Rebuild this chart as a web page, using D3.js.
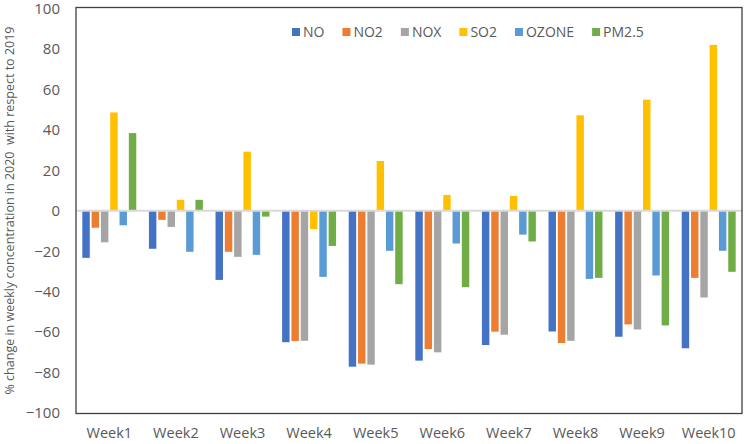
<!DOCTYPE html>
<html lang="en">
<head>
	<meta charset="utf-8">
	<title>Weekly concentration change 2020 vs 2019</title>
	<script src="https://d3js.org/d3.v7.min.js"></script>
	<style>
		body { margin: 0; background: #fff; }
		text { font-family: "Open Sans", sans-serif; fill: #595959; }
	</style>
</head>
<body>
<script>
	// Data
	var weeks = ["Week1", "Week2", "Week3", "Week4", "Week5", "Week6", "Week7", "Week8", "Week9", "Week10"];
	var pollutants = ["NO", "NO2", "NOX", "SO2", "OZONE", "PM2.5"];
	var colors = ["#4472C4", "#ED7D31", "#A5A5A5", "#FFC000", "#5B9BD5", "#70AD47"];

	var NO    = [-23.3, -18.8, -34.2, -65.0, -77.1, -74.1, -66.4, -59.7, -62.3, -68.0];
	var NO2   = [-8.4, -4.5, -20.3, -64.4, -75.6, -68.4, -59.8, -65.4, -56.2, -33.2];
	var NOX   = [-15.6, -8.0, -22.8, -64.3, -76.1, -70.0, -61.3, -64.3, -58.7, -42.9];
	var SO2   = [48.6, 5.4, 29.2, -9.1, 24.6, 7.8, 7.3, 47.2, 54.9, 82.0];
	var OZONE = [-7.2, -20.3, -21.8, -32.7, -19.8, -16.2, -11.8, -33.7, -32.0, -19.8];
	var PM25  = [38.4, 5.4, -2.9, -17.4, -36.3, -37.8, -15.2, -33.2, -56.7, -30.2];

	var yTicks = [-100, -80, -60, -40, -20, 0, 20, 40, 60, 80, 100];

	var seriesValues = [NO, NO2, NOX, SO2, OZONE, PM25];

	var w = 745;
	var h = 444;
	var plot = { left: 76, right: 742, top: 7.5, bottom: 413.5 };

	var svg = d3.select("body")
		.append("svg")
		.attr("width", w)
		.attr("height", h);

	// Scales
	var x0 = d3.scaleBand()
		.domain(weeks)
		.range([plot.left, plot.right])
		.paddingInner(0.19)
		.paddingOuter(0.095);

	var x1 = d3.scaleBand()
		.domain(pollutants)
		.range([0, x0.bandwidth()])
		.paddingInner(0.2);

	var y = d3.scaleLinear()
		.domain([-100, 100])
		.range([plot.bottom - 0.5, plot.top + 1]);

	var color = d3.scaleOrdinal().domain(pollutants).range(colors);

	// Bars, one group per week
	var rows = weeks.map(function(wk, i) {
		return {
			week: wk,
			values: pollutants.map(function(p, j) { return { key: p, value: seriesValues[j][i] }; })
		};
	});

	var groups = svg.selectAll("g.week")
		.data(rows)
		.enter()
		.append("g")
		.attr("class", "week")
		.attr("transform", function(d) { return "translate(" + x0(d.week) + ",0)"; });

	groups.selectAll("rect")
		.data(function(d) { return d.values; })
		.enter()
		.append("rect")
		.attr("x", function(d) { return x1(d.key); })
		.attr("y", function(d) { return y(Math.max(0, d.value)); })
		.attr("width", x1.bandwidth())
		.attr("height", function(d) { return Math.abs(y(d.value) - y(0)); })
		.attr("fill", function(d) { return color(d.key); });

	// Zero line
	svg.append("line")
		.attr("x1", plot.left)
		.attr("x2", plot.right)
		.attr("y1", y(0))
		.attr("y2", y(0))
		.attr("stroke", "#d9d9d9")
		.attr("stroke-width", 2);

	// Plot frame
	svg.append("rect")
		.attr("x", plot.left)
		.attr("y", plot.top)
		.attr("width", plot.right - plot.left)
		.attr("height", plot.bottom - plot.top)
		.attr("fill", "none")
		.attr("stroke", "#404040")
		.attr("stroke-width", 1.3);

	// Y axis labels
	var yAxis = d3.axisLeft(y)
		.tickValues(yTicks)
		.tickSize(0)
		.tickPadding(16);

	svg.append("g")
		.attr("transform", "translate(" + plot.left + ",0)")
		.call(yAxis)
		.call(function(g) { g.select(".domain").remove(); })
		.selectAll("text")
		.style("font-family", "'Open Sans', sans-serif")
		.style("font-size", "15px")
		.style("fill", "#595959");

	// X axis labels
	var xAxis = d3.axisBottom(x0)
		.tickSize(0)
		.tickPadding(14);

	svg.append("g")
		.attr("transform", "translate(0," + plot.bottom + ")")
		.call(xAxis)
		.call(function(g) { g.select(".domain").remove(); })
		.selectAll("text")
		.style("font-family", "'Open Sans', sans-serif")
		.style("font-size", "14.5px")
		.style("fill", "#595959");

	// Y axis title
	svg.append("text")
		.attr("text-anchor", "middle")
		.attr("transform", "translate(14," + ((plot.top + plot.bottom) / 2) + ") rotate(-90)")
		.attr("font-size", "12.5px")
		.attr("xml:space", "preserve")
		.style("white-space", "pre")
		.text("% change in weekly concentration in 2020  with respect to 2019");

	// Legend
	var legend = svg.append("g").attr("transform", "translate(292,32)");
	var lx = 0;
	pollutants.forEach(function(p) {
		var item = legend.append("g").attr("transform", "translate(" + lx + ",0)");
		item.append("rect")
			.attr("x", 0)
			.attr("y", -4)
			.attr("width", 8)
			.attr("height", 8)
			.attr("fill", color(p));
		var t = item.append("text")
			.attr("x", 11)
			.attr("y", 5)
			.attr("font-size", "14px")
			.text(p);
		lx += 11 + t.node().getComputedTextLength() + 18;
	});
</script>
</body>
</html>
